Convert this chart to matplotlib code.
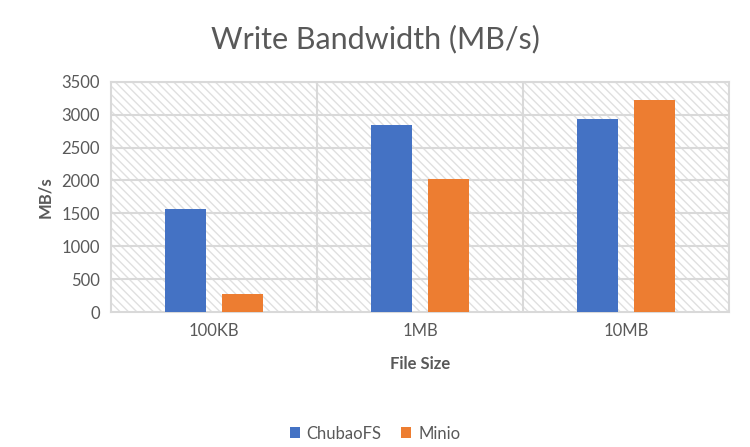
import matplotlib.pyplot as plt
import numpy as np
from matplotlib.patches import Rectangle

plt.rcParams['font.family'] = ['Lato', 'DejaVu Sans']
plt.rcParams['hatch.linewidth'] = 1.0

categories = ['100KB', '1MB', '10MB']
chubaofs = [1560, 2840, 2930]
minio = [270, 2020, 3220]

blue = '#4472c4'
orange = '#ed7d31'
grid = '#d9d9d9'
text = '#595959'

fig = plt.figure(figsize=(7.5, 4.47), dpi=100)
ax = fig.add_axes([0.148, 0.302, 0.824, 0.515])

# hatched plot background
bg = Rectangle((0, 0), 1, 1, transform=ax.transAxes, facecolor='white',
               edgecolor='#e0e0e0', hatch='\\\\\\\\', linewidth=0, zorder=0)
ax.add_patch(bg)

x = np.arange(len(categories))
w = 0.2
ax.bar(x - 0.14, chubaofs, w, color=blue, label='ChubaoFS', zorder=3)
ax.bar(x + 0.14, minio, w, color=orange, label='Minio', zorder=3)

ax.set_xlim(-0.5, 2.5)
ax.set_ylim(0, 3500)
ax.set_yticks(np.arange(0, 3501, 500))
ax.set_xticks(x)
ax.set_xticklabels(categories)

for yv in np.arange(500, 3501, 500):
    ax.axhline(yv, color=grid, lw=1.5, zorder=1)
for xv in [0.5, 1.5]:
    ax.axvline(xv, color=grid, lw=1.5, zorder=1)
for s in ax.spines.values():
    s.set_color(grid)
    s.set_linewidth(1.5)

ax.tick_params(length=0, labelsize=12, colors=text, pad=8)
ax.set_xlabel('File Size', fontsize=12, fontweight='bold', color=text, labelpad=12)
ax.set_ylabel('MB/s', fontsize=12, fontweight='bold', color=text, labelpad=6)

fig.suptitle('Write Bandwidth (MB/s)', fontsize=22, color=text, y=0.945)

fig.legend(loc='center', bbox_to_anchor=(0.5, 0.03), ncol=2, frameon=False,
           fontsize=12, labelcolor=text, handlelength=0.6, handleheight=0.6,
           columnspacing=1.2, handletextpad=0.4)

fig.savefig('out.png', dpi=100)
